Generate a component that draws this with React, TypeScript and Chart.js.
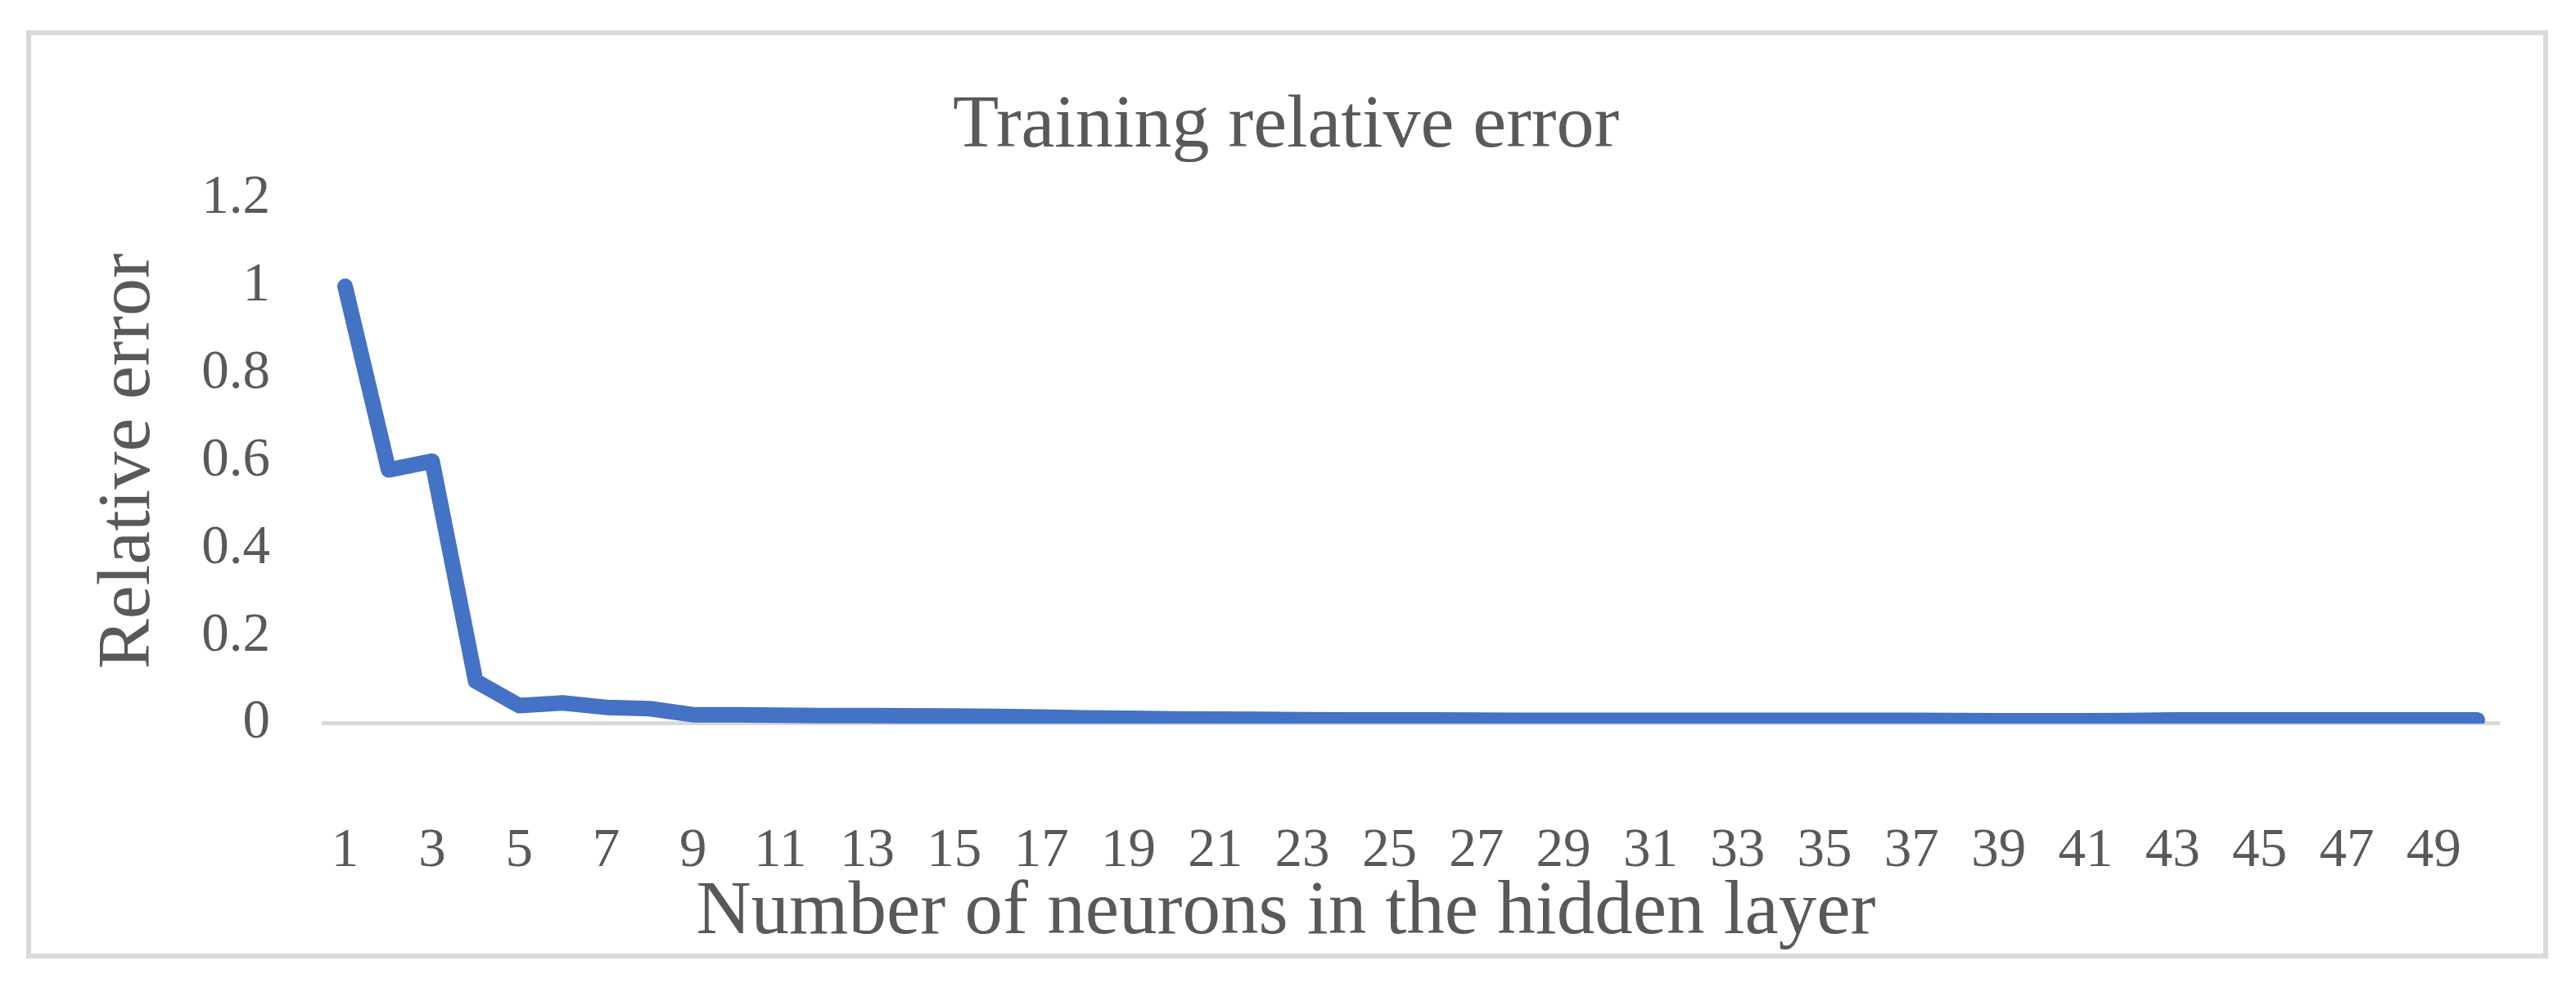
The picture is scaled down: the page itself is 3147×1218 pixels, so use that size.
import React, { useEffect, useRef } from "react";
import { Chart, registerables } from "chart.js";

Chart.register(...registerables);

const neurons = [
  "1", "2", "3", "4", "5", "6", "7", "8", "9", "10",
  "11", "12", "13", "14", "15", "16", "17", "18", "19", "20",
  "21", "22", "23", "24", "25", "26", "27", "28", "29", "30",
  "31", "32", "33", "34", "35", "36", "37", "38", "39", "40",
  "41", "42", "43", "44", "45", "46", "47", "48", "49", "50",
];

const relativeError = [
  1.0, 0.58, 0.6, 0.097, 0.041, 0.047, 0.037, 0.034, 0.02, 0.02,
  0.019, 0.018, 0.018, 0.0175, 0.017, 0.016, 0.015, 0.013, 0.012, 0.0105,
  0.01, 0.0098, 0.0088, 0.0084, 0.0084, 0.0084, 0.0078, 0.0075, 0.0075, 0.0075,
  0.0075, 0.0075, 0.0075, 0.0075, 0.0075, 0.0075, 0.0075, 0.007, 0.0065, 0.0065,
  0.0065, 0.0068, 0.0082, 0.0084, 0.0084, 0.0084, 0.0084, 0.0084, 0.0084, 0.0084,
];

const chartTitle = "Training relative error";
const xTitle = "Number of neurons in the hidden layer";
const yTitle = "Relative error";
const yMin = 0;
const yMax = 1.2;
const yStep = 0.2;

const FONT = "'Liberation Serif', 'Times New Roman', serif";
const TEXT = "#595959";

export default function App() {
  const ref = useRef<HTMLCanvasElement | null>(null);

  useEffect(() => {
    if (!ref.current) return;
    const chart = new Chart(ref.current, {
      type: "line",
      data: {
        labels: neurons,
        datasets: [
          {
            data: relativeError,
            borderColor: "#4472C4",
            backgroundColor: "#4472C4",
            borderWidth: 19,
            pointRadius: 0,
            tension: 0,
            fill: false,
            borderCapStyle: "round",
            borderJoinStyle: "round",
          },
        ],
      },
      options: {
        responsive: false,
        animation: false,
        layout: { padding: { left: 89, right: 94, top: 0, bottom: 0 } },
        plugins: {
          legend: { display: false },
          tooltip: { enabled: false },
          title: {
            display: true,
            text: chartTitle,
            color: TEXT,
            font: { family: FONT, size: 92, weight: "normal" },
            padding: { top: 100, bottom: 32.5 },
          },
          subtitle: {
            display: true,
            position: "bottom",
            text: xTitle,
            color: TEXT,
            font: { family: FONT, size: 93, weight: "normal" },
            padding: { top: 0, bottom: 47 },
          },
        },
        scales: {
          x: {
            type: "category",
            offset: true,
            grid: { display: false, drawTicks: false },
            border: { display: true, color: "#D9D9D9", width: 5 },
            ticks: {
              autoSkip: false,
              maxRotation: 0,
              minRotation: 0,
              padding: 116,
              color: TEXT,
              font: { family: FONT, size: 67 },
              callback: function (this: any, val: any, index: number) {
                return index % 2 === 0 ? this.getLabelForValue(val) : "";
              },
            },
            afterFit: (s: any) => {
              s.height = 175.5;
            },
          },
          y: {
            min: yMin,
            max: yMax,
            grid: { display: false, drawTicks: false },
            border: { display: false },
            ticks: {
              stepSize: yStep,
              padding: 65,
              color: TEXT,
              font: { family: FONT, size: 67 },
              callback: (v: any) => String(Math.round(Number(v) * 10) / 10),
            },
            title: {
              display: true,
              text: yTitle,
              color: TEXT,
              font: { family: FONT, size: 92, weight: "normal" },
              padding: { top: 14, bottom: 0 },
            },
            afterFit: (s: any) => {
              s.width = 306;
            },
          },
        },
      },
    } as any);
    return () => chart.destroy();
  }, []);

  return (
    <div
      style={{
        position: "absolute",
        left: 0,
        top: 0,
        width: 3147,
        height: 1218,
        background: "#ffffff",
        overflow: "hidden",
      }}
    >
      <div
        style={{
          position: "absolute",
          left: 32,
          top: 37,
          width: 3081,
          height: 1134,
          boxSizing: "border-box",
          border: "6px solid #D9D9D9",
        }}
      />
      <canvas
        ref={ref}
        width={3147}
        height={1218}
        style={{ position: "absolute", left: 0, top: 0, width: 3147, height: 1218 }}
      />
    </div>
  );
}
